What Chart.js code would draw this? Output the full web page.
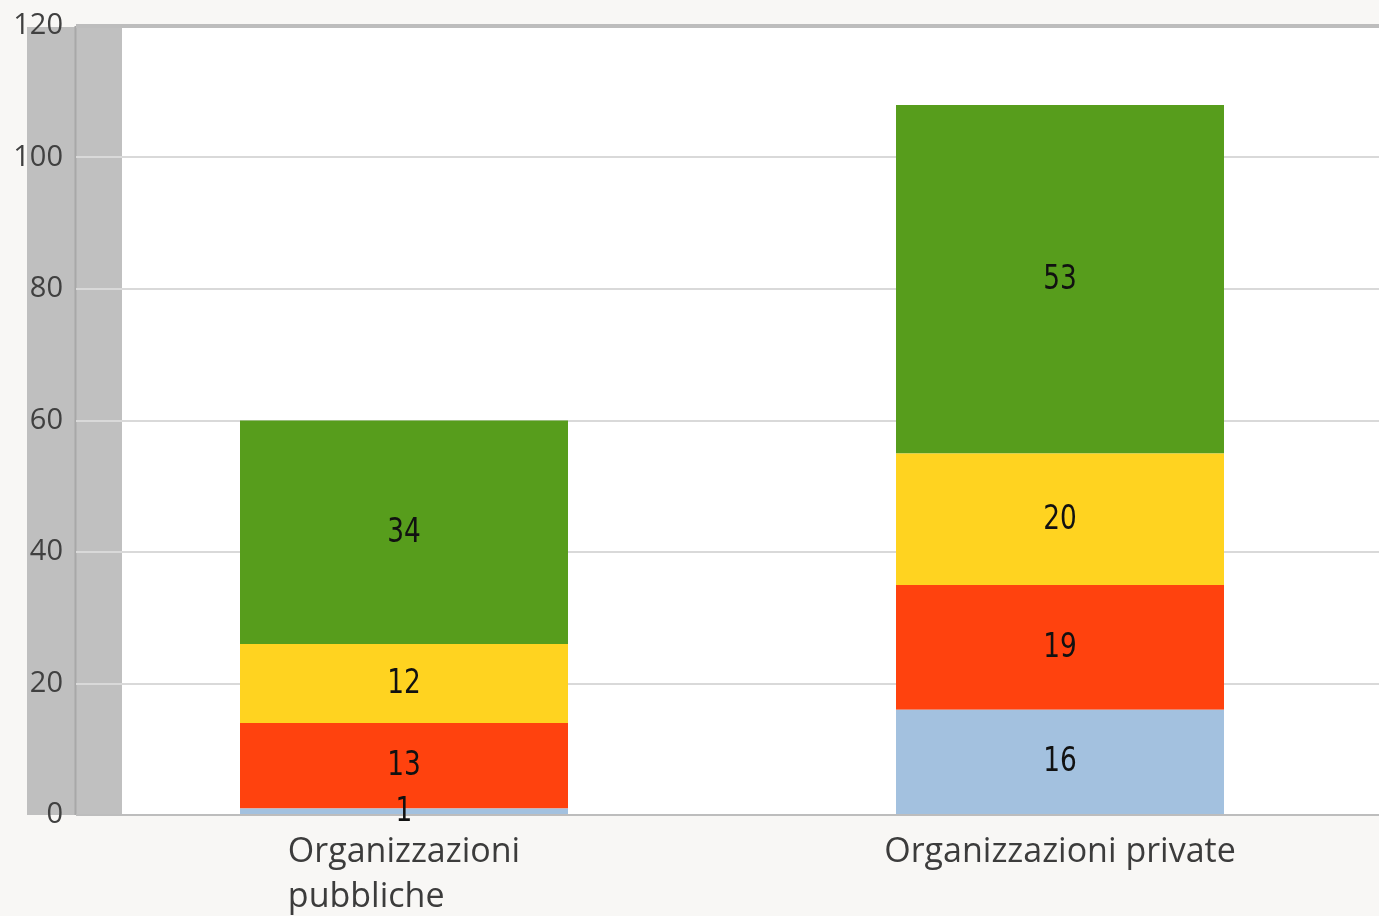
<!DOCTYPE html>
<html>
<head>
<meta charset="utf-8">
<script src="https://cdn.jsdelivr.net/npm/chart.js@4"></script>
<style>
  html, body { margin: 0; padding: 0; background: #f8f7f5; overflow: hidden; }
  #wrap { position: absolute; left: 0; top: 0; width: 1388px; height: 916px; }
</style>
</head>
<body>
<div id="wrap"><canvas id="c" width="1388" height="916"></canvas></div>
<script>
// ---- data ----
const categories = [['Organizzazioni', 'pubbliche'], 'Organizzazioni private'];
const seriesBlue = [1, 16];
const seriesRed = [13, 19];
const seriesYellow = [12, 20];
const seriesGreen = [34, 53];
const yTicks = [0, 20, 40, 60, 80, 100, 120];

const colors = { blue: '#a3c1df', red: '#ff420e', yellow: '#ffd320', green: '#579d1c' };

const bgPlugin = {
  id: 'bg',
  beforeDraw(chart) {
    const ctx = chart.ctx, a = chart.chartArea;
    ctx.save();
    ctx.fillStyle = '#f8f7f5';
    ctx.fillRect(0, 0, chart.width, chart.height);
    ctx.fillStyle = '#ffffff';
    ctx.fillRect(a.left, a.top, a.right - a.left, a.bottom - a.top);
    // 3D wall
    ctx.fillStyle = '#bfbfbf';
    ctx.fillRect(a.left - 49, a.top + 1, 49, a.bottom - a.top - 1);
    ctx.fillStyle = '#c0c0c0';
    ctx.fillRect(a.left, a.top, 46, a.bottom - a.top);
    ctx.strokeStyle = '#a8a8a8';
    ctx.lineWidth = 2;
    ctx.beginPath();
    ctx.moveTo(a.left - 0.5, a.top);
    ctx.lineTo(a.left - 0.5, a.bottom);
    ctx.stroke();
    ctx.restore();
  }
};

const labelPlugin = {
  id: 'valueLabels',
  afterDatasetsDraw(chart) {
    const ctx = chart.ctx;
    ctx.save();
    ctx.font = '33px "DejaVu Sans", sans-serif';
    ctx.fillStyle = '#111111';
    ctx.textAlign = 'center';
    ctx.textBaseline = 'middle';
    chart.data.datasets.forEach((ds, di) => {
      const meta = chart.getDatasetMeta(di);
      meta.data.forEach((el, i) => {
        const y = (el.y + el.base) / 2;
        ctx.save();
        ctx.translate(el.x, y + 1);
        ctx.scale(0.8, 1);
        ctx.fillText(String(ds.data[i]), 0, 0);
        ctx.restore();
      });
    });
    ctx.restore();
  },
  afterDraw(chart) {
    const ctx = chart.ctx, xs = chart.scales.x;
    ctx.save();
    ctx.font = '34px "Open Sans", sans-serif';
    ctx.fillStyle = '#3c3c3c';
    ctx.textAlign = 'left';
    ctx.textBaseline = 'alphabetic';
    chart.data.labels.forEach((lab, i) => {
      const lines = Array.isArray(lab) ? lab : [lab];
      const cx = xs.getPixelForTick(i);
      const w = Math.max(...lines.map(l => ctx.measureText(l).width));
      lines.forEach((l, j) => ctx.fillText(l, cx - w / 2, 862 + j * 45));
    });
    ctx.restore();
  }
};

new Chart(document.getElementById('c'), {
  type: 'bar',
  data: {
    labels: categories,
    datasets: [
      { label: 'A', data: seriesBlue, backgroundColor: colors.blue },
      { label: 'B', data: seriesRed, backgroundColor: colors.red },
      { label: 'C', data: seriesYellow, backgroundColor: colors.yellow },
      { label: 'D', data: seriesGreen, backgroundColor: colors.green }
    ]
  },
  options: {
    responsive: false,
    animation: false,
    layout: { padding: { top: 26, left: 0, right: 0, bottom: 0 } },
    datasets: { bar: { categoryPercentage: 0.5, barPercentage: 1.0, borderWidth: 0 } },
    plugins: { legend: { display: false }, tooltip: { enabled: false } },
    scales: {
      x: {
        stacked: true,
        grid: { display: false },
        border: { display: false },
        ticks: { display: false },
        afterFit: s => { s.height = 101; s.paddingLeft = 0; s.paddingRight = 0; }
      },
      y: {
        stacked: true,
        min: 0, max: 120,
        afterBuildTicks: s => { s.ticks = yTicks.map(v => ({ value: v })); },
        grid: {
          drawTicks: false,
          color: ctx => (ctx.tick && (ctx.tick.value === 0 || ctx.tick.value === 120)) ? '#bdbdbd' : '#d9d9d9',
          lineWidth: ctx => (ctx.tick && ctx.tick.value === 120) ? 4 : 2
        },
        border: { display: false },
        ticks: {
          padding: 13,
          color: '#404040',
          font: { family: '"Open Sans", sans-serif', size: 29 }
        },
        afterFit: s => { s.width = 76; s.paddingTop = 0; s.paddingBottom = 0; }
      }
    }
  },
  plugins: [bgPlugin, labelPlugin]
});
</script>
</body>
</html>
